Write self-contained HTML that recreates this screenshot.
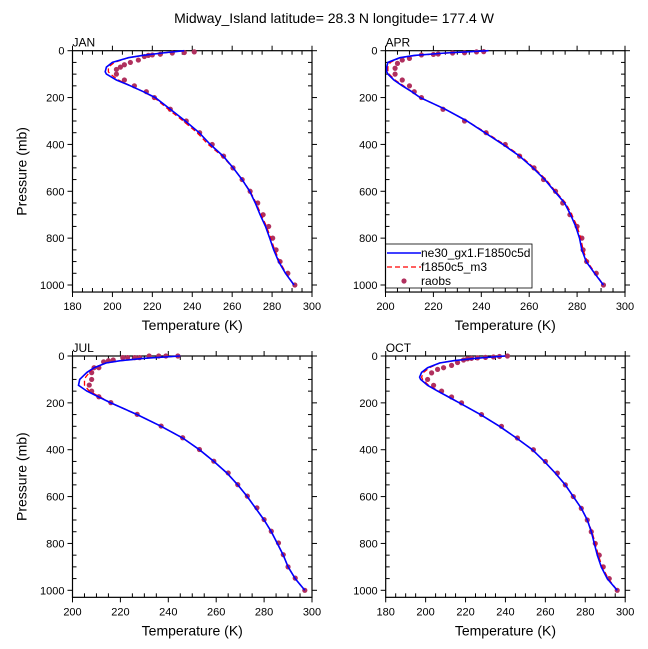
<!DOCTYPE html>
<html><head><meta charset="utf-8"><style>
html,body{margin:0;padding:0;background:#fff;}
svg{display:block;font-family:"Liberation Sans",Arial,sans-serif;}
</style></head><body>
<svg id="c" width="648" height="649" viewBox="0 0 648 649">
<text x="334" y="23" font-size="14" text-anchor="middle">Midway_Island  latitude= 28.3 N longitude= 177.4 W</text>
</svg>
<script>
const months = ["JAN","APR","JUL","OCT"];
const xMins = [180,200,200,180];
const xTickLabelsA = [180,200,220,240,260,280,300];
const xTickLabelsB = [200,220,240,260,280,300];
const yTickLabels = [0,200,400,600,800,1000];
const modelP = [0,10,20,30,50,70,90,100,125,150,175,200,250,300,350,400,450,500,550,600,650,700,750,800,850,900,950,1000];
const blueJAN = [236,225,215,208,200,197,196.4,197,202,209,215.5,221.5,229,236.5,243.5,249,255.5,260.5,265,268.8,271.6,274,276.7,278.8,280.8,283.3,286.7,291];
const redJAN  = [236,225,215,208,201,198,198,199,203,209,215.5,221,228,235.5,242.5,248,255,260.5,265,269,272,274.5,277.2,279.3,281.3,283.8,287,291];
const blueAPR = [243,225,212,206,201,200.5,200.5,201,203.5,207,211,214.5,225,234,241.5,249,256,261.6,266.5,270.6,274.8,277.3,279.4,281,282,283.8,287.3,291];
const redAPR  = [243,226,213,206,202,201,201,201.5,204,207.5,211,214.5,225,234,242,249.5,256.5,262,267,271,275.2,277.8,280,281.5,282.5,284.2,287.6,291];
const blueJUL = [245,230,220,214,209,206,204,203,202.5,206,211,216,227,237,246,253,259,264.5,269,273,276.5,280,283,285.5,288,290,293,297];
const redJUL  = [245,230,220,214,209,207,205.5,205,205,207,211.5,216,227,237,246,253,259,264.5,269,273,276.5,280,283,285.5,288,290,293,297];
const blueOCT = [240,225,214,207,201,198,197,197.5,201,206,211.5,217,227.5,237,245.5,253.5,259.5,265,270,274,278,281,283,284.5,286,288,291,296];
const redOCT  = [240,225,214,207,202,199,198,198.5,201.5,206.5,211.5,217,227.5,237,245.5,253.5,259.5,265,270,274,278,281,283.3,285,286.5,288.5,291.5,296];
const raobPJAN = [5,8,10,15,18,20,25,40,50,60,70,80,100,125,150,175,200,250,300,350,400,450,500,550,600,650,700,750,800,850,900,950,1000];
const raobTJAN = [241,236,230,224,220,218,216,213,209,206,204,202,202,206,211,217,221,229,237,243.7,250,255.7,260.4,265,269,272.8,275.5,278.3,280.3,282,284,287.9,291.4];
const raobPAPR = [4,5,9,10,14,16,18,33,40,54,75,100,125,150,175,200,250,300,350,400,450,500,550,600,650,700,750,800,850,900,950,1000];
const raobTAPR = [241,238,233,228,222,220,215,210,207,205,204,204,207,210,212,215,224,233,242,250,256,262,266,271,274,277,280,282,282.5,284,288,291];
const raobPJUL = [0,0,0,0,7,7,7,7,17,20,25,50,50,71,100,124,150,174,199,249,299,349,399,449,499,549,598,648,698,748,798,848,900,948,1000];
const raobTJUL = [244,239,236,232,228,226,223,221,217,215,213,211,209,208,208,207,208,211,216,227,237,246,253,259,265,269,273,277,280,283,286,288,290,293,297];
const raobPOCT = [0,2,4,6,8,10,12,17,28,40,50,57,72,100,125,150,175,200,250,300,350,400,450,500,550,600,650,700,750,800,850,900,950,1000];
const raobTOCT = [241,237,234,230,226,223,221,219,216,213,209,206,203,201,204,208,213,218,228,238,246,254,260,266,270,274,278,281,283,285,287,289,292,296];
</script>
<script>
const NS="http://www.w3.org/2000/svg";
const svg=document.getElementById("c");
const blues=[blueJAN,blueAPR,blueJUL,blueOCT];
const reds=[redJAN,redAPR,redJUL,redOCT];
const raobPs=[raobPJAN,raobPAPR,raobPJUL,raobPOCT];
const raobTs=[raobTJAN,raobTAPR,raobTJUL,raobTOCT];
const boxes=[{l:72.5,t:50.7},{l:385.5,t:50.7},{l:72.5,t:356},{l:385.7,t:356}];
const W=239.5, PBOT=1030, HPER=0.2343;
function mk(tag,attrs,parent){const e=document.createElementNS(NS,tag);for(const k in attrs)e.setAttribute(k,attrs[k]);(parent||svg).appendChild(e);return e;}
months.forEach((m,i)=>{
  const b=boxes[i], xmin=xMins[i], xs=W/(300-xmin);
  const H=PBOT*HPER;
  const X=t=>b.l+(t-xmin)*xs, Y=p=>b.t+p*HPER;
  const g=mk("g",{});
  
  
  const fr=mk("rect",{x:b.l,y:b.t,width:W,height:H,fill:"none",stroke:"#000","stroke-width":1.2},g);
  
  
  const lab=mk("text",{x:b.l,y:b.t-4,"font-size":12},g);lab.textContent=m;
  
  
  for(let t=xmin;t<=300;t+=5){const x=X(t);const major=(t%20===0);
    if(major){mk("line",{x1:x,x2:x,y1:b.t+H,y2:b.t+H+5,stroke:"#000"},g);mk("line",{x1:x,x2:x,y1:b.t,y2:b.t-5,stroke:"#000"},g);}
    else{mk("line",{x1:x,x2:x,y1:b.t+H,y2:b.t+H-4,stroke:"#000"},g);mk("line",{x1:x,x2:x,y1:b.t,y2:b.t+4,stroke:"#000"},g);}
  }
  const xl=(xmin===180?xTickLabelsA:xTickLabelsB);
  xl.forEach(v=>{const tx=mk("text",{x:X(v),y:b.t+H+18,"font-size":11,"text-anchor":"middle"},g);tx.textContent=v;
    
    });
  for(let p=0;p<=1000;p+=50){const y=Y(p);const major=(p%200===0);
    if(major){mk("line",{x1:b.l,x2:b.l-5,y1:y,y2:y,stroke:"#000"},g);mk("line",{x1:b.l+W,x2:b.l+W+5,y1:y,y2:y,stroke:"#000"},g);}
    else{mk("line",{x1:b.l,x2:b.l+4,y1:y,y2:y,stroke:"#000"},g);mk("line",{x1:b.l+W,x2:b.l+W-4,y1:y,y2:y,stroke:"#000"},g);}
  }
  yTickLabels.forEach(v=>{const tx=mk("text",{x:b.l-8,y:Y(v)+4,"font-size":11,"text-anchor":"end"},g);tx.textContent=v;
    
    });
  const xt=mk("text",{x:b.l+W/2,y:b.t+H+38,"font-size":14,"text-anchor":"middle"},g);xt.textContent="Temperature (K)";
  
  
  if(i%2===0){const yt=mk("text",{x:0,y:0,"font-size":14,"text-anchor":"middle",transform:`translate(${b.l-46},${b.t+H/2}) rotate(-90)`},g);yt.textContent="Pressure (mb)";
    
    }
  raobPs[i].forEach((p,k)=>{const c=mk("circle",{cx:X(raobTs[i][k]),cy:Y(p),r:2.6,fill:"#b0305e"},g);
    
    });
  const pts=a=>modelP.map((p,k)=>X(a[k]).toFixed(1)+","+Y(p).toFixed(1)).join(" ");
  const rl=mk("polyline",{points:pts(reds[i]),fill:"none",stroke:"#ff0000","stroke-width":1.3,"stroke-dasharray":"5,3"},g);
  
  
  const bl=mk("polyline",{points:pts(blues[i]),fill:"none",stroke:"#0000ff","stroke-width":1.6},g);
  
  
});
const lg=mk("g",{});


mk("rect",{x:385.7,y:244,width:146.3,height:44,fill:"#fff",stroke:"#000","stroke-width":0.8},lg);
mk("line",{x1:387,x2:421,y1:253,y2:253,stroke:"#0000ff","stroke-width":1.6},lg);
mk("line",{x1:387,x2:421,y1:267,y2:267,stroke:"#ff0000","stroke-width":1.3,"stroke-dasharray":"5,3"},lg);
mk("circle",{cx:404,cy:281,r:2.6,fill:"#b0305e"},lg);
[["ne30_gx1.F1850c5d",257],["f1850c5_m3",271],["raobs",285]].forEach(([t,y])=>{const tx=mk("text",{x:421,y:y,"font-size":12},lg);tx.textContent=t;
  
  });
</script>
</body></html>
